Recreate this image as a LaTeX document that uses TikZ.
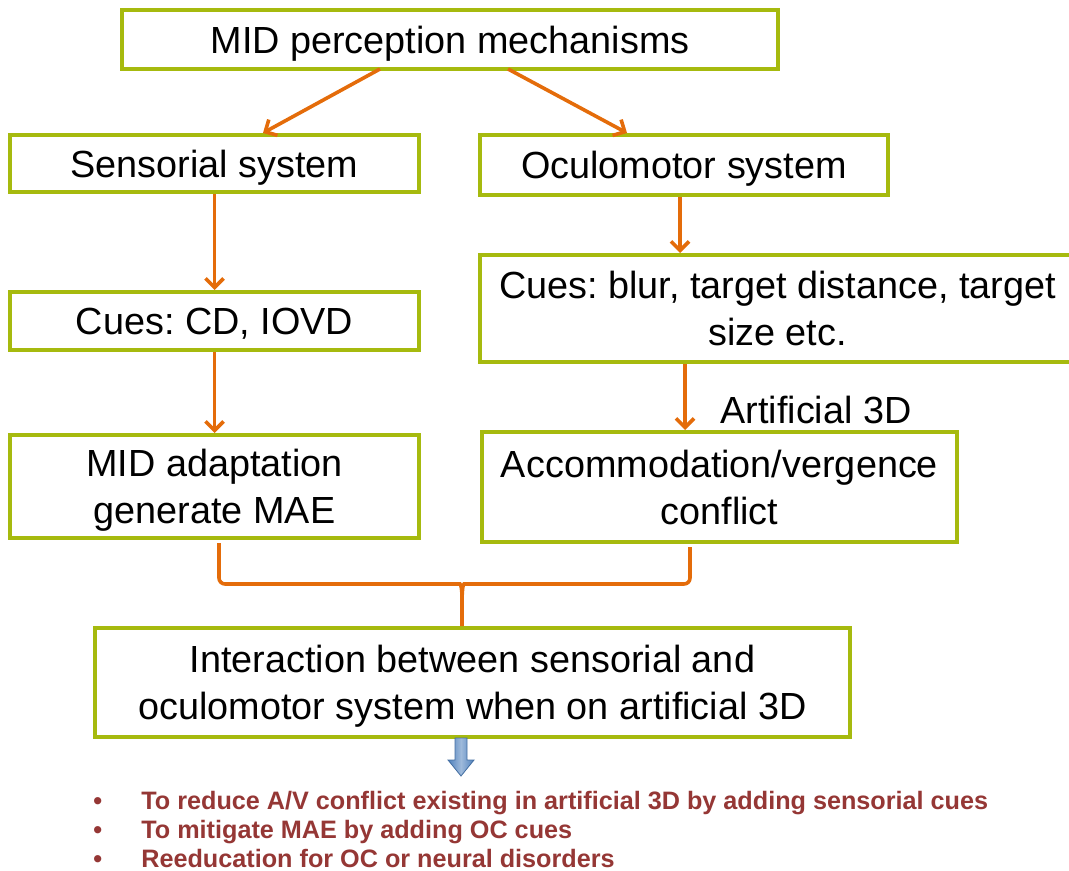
\documentclass[tikz,border=0pt]{standalone}
\usepackage{fontspec}
\setmainfont{Liberation Sans}
\usetikzlibrary{arrows.meta,calc}
\definecolor{boxgreen}{RGB}{166,186,14}
\definecolor{arrorange}{RGB}{228,108,10}
\definecolor{notered}{RGB}{149,55,53}
\definecolor{arrblue}{RGB}{79,129,189}
\frenchspacing
\begin{document}
\begin{tikzpicture}[x=0.5pt,y=-0.5pt,
  box/.style={draw=boxgreen,line width=2pt,align=center,inner sep=0pt,font=\fontsize{18.9}{23.5}\selectfont,
    text depth=0pt},
  arr/.style={draw=arrorange,line width=1.8pt,-{Straight Barb[length=4.5pt,width=9pt]}},
  brace/.style={draw=arrorange,line width=1.8pt,rounded corners=3pt}]
\useasboundingbox (0,0) rectangle (1069,871);
\node[box,minimum width=328pt,minimum height=29.5pt] (top) at (450,39.5) {MID perception mechanisms};
\node[box,minimum width=204.5pt,minimum height=28.5pt] (sens) at (214.5,163.5) {Sensorial system};
\node[box,minimum width=204pt,minimum height=30pt] (ocul) at (684,165) {Oculomotor system};
\node[box,minimum width=204.5pt,minimum height=29pt] (cues1) at (214.5,321) {Cues: CD, IOVD};
\node[box,minimum width=297.5pt,minimum height=53.5pt] (cues2) at (777.5,308.5) {Cues: blur, target distance, target\\size etc.};
\node[box,minimum width=204.5pt,minimum height=51.5pt] (adapt) at (214.5,486.5) {MID adaptation\\generate MAE};
\node[box,minimum width=237.5pt,minimum height=55pt] (accom) at (719.5,487) {Accommodation/vergence\\conflict};
\node[box,minimum width=377.5pt,minimum height=54.5pt] (inter) at (472.5,682.5) {Interaction between sensorial and\\oculomotor system when on artificial 3D};
\node[font=\fontsize{18.9}{22.5}\selectfont] (art) at (816,410) {Artificial 3D};
\node[anchor=west,align=left,inner sep=0pt,text=notered,font=\bfseries\fontsize{12.6}{14.5}\selectfont] (notes) at (93,829)
  {\makebox[24pt][l]{\textbullet}To reduce A/V conflict existing in artificial 3D by adding sensorial cues\\
   \makebox[24pt][l]{\textbullet}To mitigate MAE by adding OC cues\\
   \makebox[24pt][l]{\textbullet}Reeducation for OC or neural disorders};
\draw[arr] ($(top.south)+(-70,-2)$) -- ($(sens.north)+(48.5,0)$);
\draw[arr] ($(top.south)+(58,-2)$) -- ($(ocul.north)+(-57,0)$);
\draw[arr] (sens.south) -- (cues1.north);
\draw[arr] (cues1.south) -- (adapt.north);
\draw[arr] ($(ocul.south)+(-4,0)$) -- ($(ocul.south |- cues2.north)+(-4,0)$);
\coordinate (a) at ($(accom.north)+(-34.5,0)$);
\draw[arr] (cues2.south -| a) -- (a);
\coordinate (bl) at ($(adapt.south)+(4.5,3)$);
\coordinate (br) at ($(accom.south)+(-29.5,3)$);
\coordinate (tip) at ($(inter.north)+(-10.5,0)$);
\draw[brace] (bl) -- (bl |- 0,584) -- ($(tip |- 0,584)+(-8,0)$) .. controls ($(tip |- 0,584)+(-1,0)$) and ($(tip |- 0,590)$) .. ($(tip |- 0,604)$) -- (tip);
\draw[brace] (br) -- (br |- 0,584) -- ($(tip |- 0,584)+(8,0)$) .. controls ($(tip |- 0,584)+(1,0)$) and ($(tip |- 0,590)$) .. ($(tip |- 0,604)$);
\shade[left color=arrblue,right color=arrblue,middle color=arrblue!55!white,draw=arrblue!85!black,line width=0.4pt]
  (455,738) -- (467,738) -- (467,760) -- (474,760) -- (461,776) -- (448,760) -- (455,760) -- cycle;
\end{tikzpicture}
\end{document}
